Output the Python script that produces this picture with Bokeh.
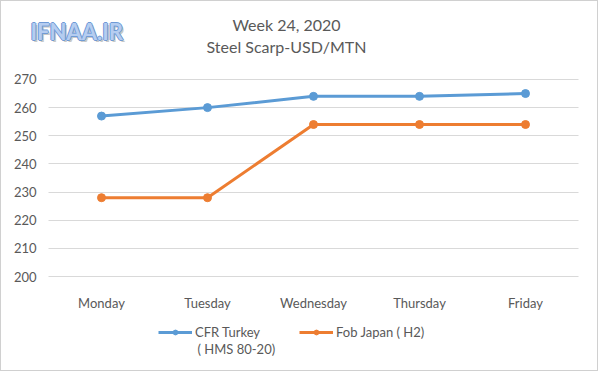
from bokeh.plotting import figure
from bokeh.models import ColumnDataSource, Label, Legend, LegendItem, Range1d, FixedTicker
from bokeh.embed import file_html
from bokeh.resources import INLINE

days = ["Monday", "Tuesday", "Wednesday", "Thursday", "Friday"]
turkey = [257, 260, 264, 264, 265]
japan = [228, 228, 254, 254, 254]
y_ticks = [200, 210, 220, 230, 240, 250, 260, 270]
title_lines = ["Week 24, 2020", "Steel Scarp-USD/MTN"]
series_names = ["CFR Turkey", "Fob Japan ( H2)"]
series_name_tail = "( HMS 80-20)"
watermark = "IFNAA.IR"

FONT = "Lato"
GREY = "#595959"
GRID = "#d9d9d9"

pos = list(range(len(days)))
src = ColumnDataSource(dict(x=pos, turkey=turkey, japan=japan))

W, H = 598, 371
p = figure(width=W, height=H,
           x_range=Range1d(-0.9434, 4.698), y_range=Range1d(165.9, 297.7),
           output_backend="svg", toolbar_location=None,
           min_border_left=0, min_border_right=0, min_border_top=0, min_border_bottom=0)
p.outline_line_color = None
p.background_fill_color = "white"
p.border_fill_color = "white"
p.xgrid.visible = False
p.ygrid.visible = False

xa = p.xaxis[0]
xa.fixed_location = y_ticks[0]
xa.ticker = FixedTicker(ticks=pos)
xa.major_label_overrides = {i: d for i, d in zip(pos, days)}
xa.axis_line_color = None
xa.major_tick_line_color = None
xa.minor_tick_line_color = None
xa.major_label_standoff = 12

ya = p.yaxis[0]
ya.fixed_location = -0.5
ya.ticker = FixedTicker(ticks=y_ticks)
ya.axis_line_color = None
ya.minor_tick_line_color = None
ya.major_tick_line_color = GRID
ya.major_tick_line_width = 1
ya.major_tick_in = 530
ya.major_tick_out = 0
ya.major_label_standoff = 12
ya.level = "underlay"

for ax in (xa, ya):
    ax.major_label_text_font = FONT
    ax.major_label_text_font_size = "13px"
    ax.major_label_text_color = GREY

r1 = p.line("x", "turkey", source=src, line_color="#5b9bd5", line_width=3)
s1 = p.scatter("x", "turkey", source=src, size=8, fill_color="#5b9bd5", line_color="#5b9bd5")
r2 = p.line("x", "japan", source=src, line_color="#ed7d31", line_width=3)
s2 = p.scatter("x", "japan", source=src, size=8, fill_color="#ed7d31", line_color="#ed7d31")

legend = Legend(items=[LegendItem(label=series_names[0], renderers=[r1, s1]),
                       LegendItem(label=series_names[1], renderers=[r2, s2])],
                orientation="horizontal", location=(157, 32))
legend.padding = 0
legend.margin = 0
legend.spacing = 39
legend.glyph_width = 34
legend.glyph_height = 12
legend.label_standoff = 3
legend.border_line_color = None
legend.background_fill_alpha = 0
legend.label_text_font = FONT
legend.label_text_font_size = "13px"
legend.label_text_color = GREY
p.add_layout(legend, "center")

def lab(x, y, text, size, color, align="left", style="normal", alpha=1.0):
    p.add_layout(Label(x=x, y=y, x_units="screen", y_units="screen", text=text,
                       text_align=align, text_baseline="middle", text_font=FONT,
                       text_font_style=style, text_font_size=size, text_color=color,
                       text_alpha=alpha))

lab(196, 24, series_name_tail, "13px", GREY)
lab(285, 348, title_lines[0], "16px", GREY, align="center")
lab(285, 326, title_lines[1], "16px", GREY, align="center")

# watermark: soft shadow, blue outline, light fill
lab(31, 339, watermark, "22px", "#c8c8c8", style="bold")
for dx, dy in [(-1, 0), (1, 0), (0, -1), (0, 1)]:
    lab(29 + dx, 341 + dy, watermark, "22px", "#6f9ad6", style="bold")
lab(29, 341, watermark, "22px", "#b5cdf0", style="bold")

p.styles = {"border": "1px solid #d0d0d0"}

open("out.html", "w").write(file_html(p, INLINE))
